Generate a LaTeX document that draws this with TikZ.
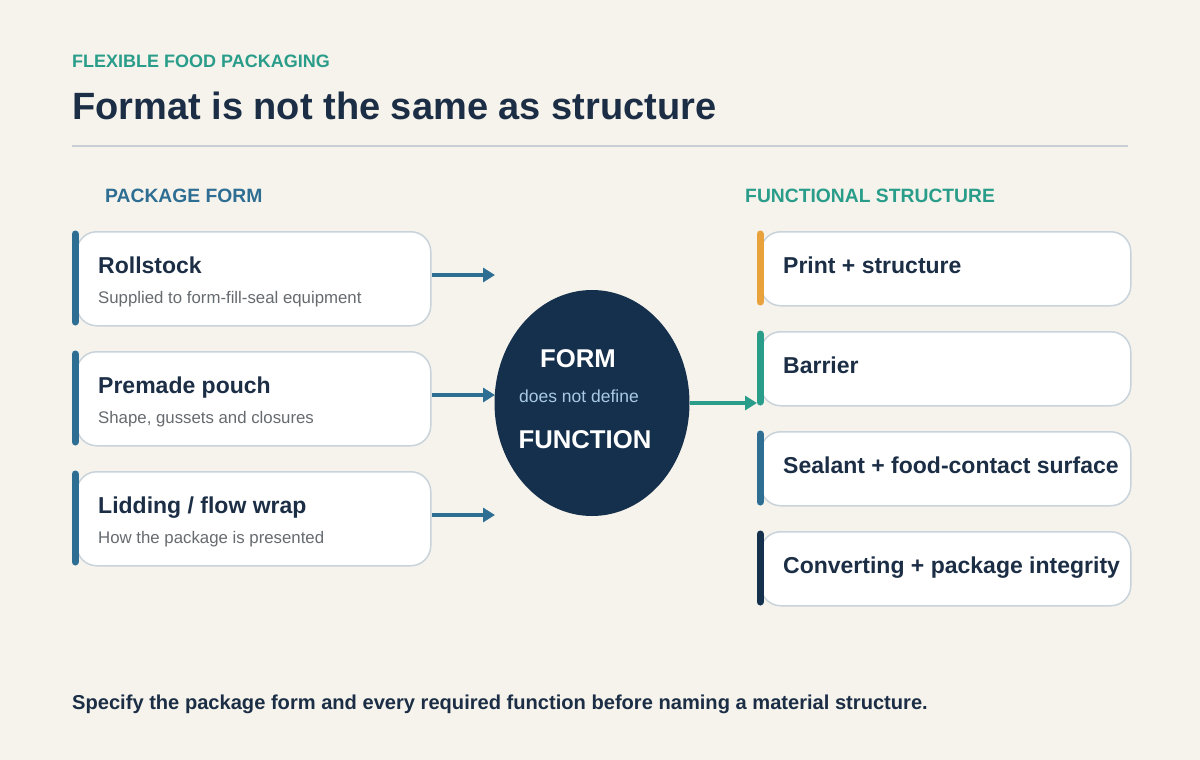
\documentclass[tikz,border=0pt]{standalone}
\usepackage{fontspec}
\setmainfont{Liberation Sans}
\usetikzlibrary{shapes.geometric,arrows.meta}
\definecolor{bg}{HTML}{F6F3EC}
\definecolor{navy}{HTML}{15304C}
\definecolor{ink}{HTML}{1B2E45}
\definecolor{teal}{HTML}{2A9D8A}
\definecolor{steel}{HTML}{2E6E93}
\definecolor{amber}{HTML}{E9A23B}
\definecolor{edge}{HTML}{C9D3DB}
\definecolor{muted}{HTML}{666B70}
\definecolor{pale}{HTML}{A9C9E3}
\definecolor{rule}{HTML}{C8CED3}
\tikzset{
  card/.style={draw=edge, line width=1.5pt, fill=white, rounded corners=20pt, inner sep=0pt},
  bar/.style={line width=7pt, line cap=round},
  ttl/.style={anchor=base west, inner sep=0pt, text=ink, font=\bfseries\fontsize{23}{27}\selectfont},
  sub/.style={anchor=base west, inner sep=0pt, text=muted, font=\fontsize{16.8}{20}\selectfont},
  flow/.style={line width=3.5pt, -{Triangle[length=12pt,width=14pt]}},
}
\begin{document}
\begin{tikzpicture}[x=1pt,y=-1pt]
\fill[bg] (0,0) rectangle (1200,760);
\useasboundingbox (0,0) rectangle (1200,760);

\node[anchor=base west, inner sep=0pt, text=teal, font=\bfseries\fontsize{18}{21}\selectfont] (kick) at (72,67) {FLEXIBLE FOOD PACKAGING};
\node[anchor=base west, inner sep=0pt, text=ink, font=\bfseries\fontsize{38}{44}\selectfont] (title) at (72,119) {Format is not the same as structure};
\draw[rule, line width=1.5pt] (72,146) -- (1128,146);

\node[anchor=base west, inner sep=0pt, text=steel, font=\bfseries\fontsize{19.3}{23}\selectfont] (hl) at (105,202) {PACKAGE FORM};
\node[anchor=base west, inner sep=0pt, text=teal, font=\bfseries\fontsize{19.3}{23}\selectfont] (hr) at (745,202) {FUNCTIONAL STRUCTURE};

% left cards
\foreach \n/\y/\t/\s in {rs/231/Rollstock/Supplied to form-fill-seal equipment,
                          pp/351/Premade pouch/{Shape, gussets and closures},
                          lf/471/{Lidding / flow wrap}/How the package is presented}{
  \node[card, minimum width=354pt, minimum height=94pt, anchor=north west] (\n) at (76,\y) {};
  \draw[bar, steel] (75,\y+3) -- (75,\y+91);
  \node[ttl] (\n t) at (98,\y+42) {\t};
  \node[sub] (\n s) at (98,\y+72) {\s};
}

% center ellipse
\node[ellipse, fill=navy, minimum width=195pt, minimum height=226pt, inner sep=0pt] (core) at (592,403) {};
\node[anchor=base, inner sep=0pt, text=white, font=\bfseries\fontsize{25.7}{30}\selectfont] (fm) at (578,367) {FORM};
\node[anchor=base, inner sep=0pt, text=pale, font=\fontsize{17.5}{21}\selectfont] (dn) at (579,402) {does not define};
\node[anchor=base, inner sep=0pt, text=white, font=\bfseries\fontsize{25.7}{30}\selectfont] (fn) at (585,448) {FUNCTION};

\coordinate (a1) at (495,275);
\coordinate (a2) at (495,395);
\coordinate (a3) at (495,515);
\draw[flow, steel] (rs.east |- a1) -- (a1);
\draw[flow, steel] (pp.east |- a2) -- (a2);
\draw[flow, steel] (lf.east |- a3) -- (a3);

% right cards
\foreach \n/\y/\c/\t in {ps/231/amber/Print + structure,
                          br/331/teal/Barrier,
                          sl/431/steel/Sealant + food-contact surface,
                          cv/531/navy/Converting + package integrity}{
  \node[card, minimum width=370pt, minimum height=74pt, anchor=north west] (\n) at (760,\y) {};
  \draw[bar, \c] (760,\y+3) -- (760,\y+71);
  \node[ttl] (\n t) at (783,\y+42) {\t};
}

\coordinate (g) at (757,403);
\draw[flow, teal] (core.east |- g) -- (g);

\node[anchor=base west, inner sep=0pt, text=ink, font=\bfseries\fontsize{20.1}{24}\selectfont] (foot) at (72,709) {Specify the package form and every required function before naming a material structure.};
\end{tikzpicture}
\end{document}
